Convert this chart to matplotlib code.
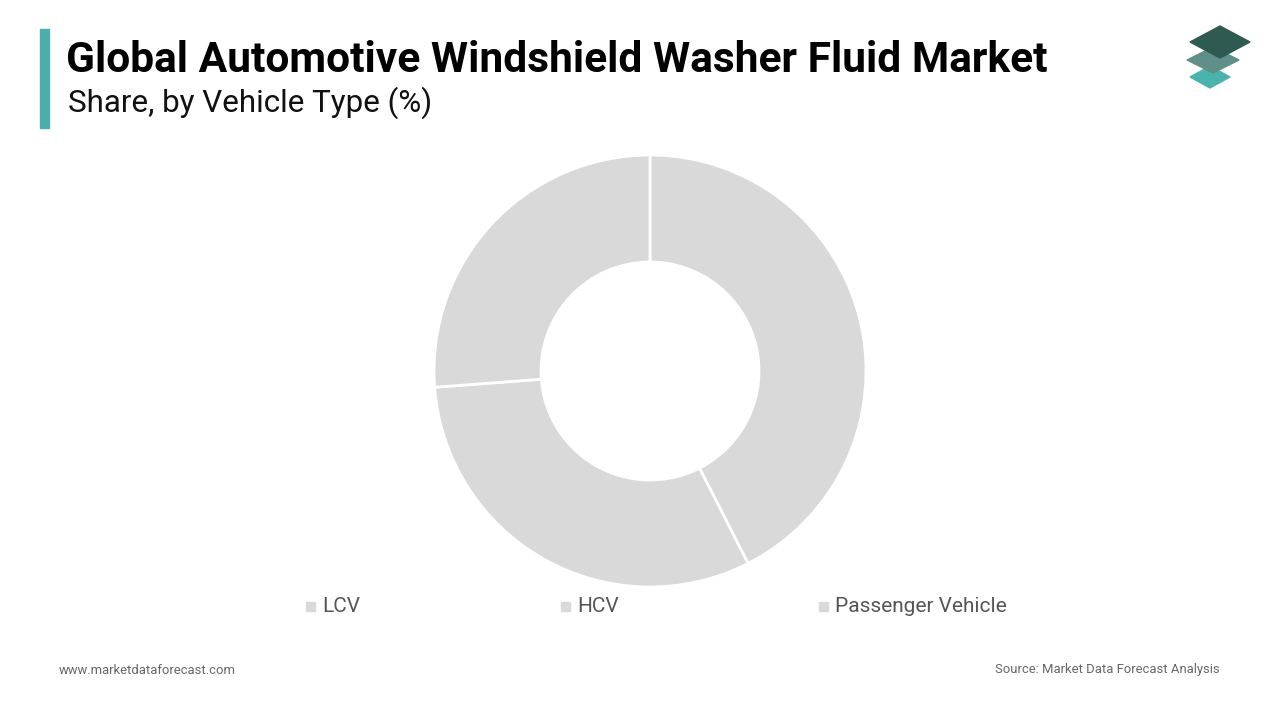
import matplotlib
matplotlib.use("Agg")
import matplotlib.pyplot as plt
from matplotlib.patches import Polygon, Rectangle

categories = ["Passenger Vehicle", "LCV", "HCV"]
values = [42.5, 31.3, 26.2]
legend_order = ["LCV", "HCV", "Passenger Vehicle"]

W, H = 1280, 720
fig = plt.figure(figsize=(12.8, 7.2), dpi=100)
fig.patch.set_facecolor("white")

def fx(x): return x / W
def fy(y): return 1 - y / H

# title bar
fig.patches.append(Rectangle((fx(40), fy(128)), 9 / W, 99 / H, transform=fig.transFigure, color="#4aaeaa"))
fig.text(fx(66), fy(60), "Global Automotive Windshield Washer Fluid Market", fontsize=30.6, fontweight="bold",
         family="Roboto", va="center", color="black")
fig.text(fx(68), fy(103), "Share, by Vehicle Type (%)", fontsize=22.6, family="Roboto", va="center", color="#111111")

# logo
def diamond(cx, cy, w, h, c):
    pts = [(fx(cx - w), fy(cy)), (fx(cx), fy(cy - h)), (fx(cx + w), fy(cy)), (fx(cx), fy(cy + h))]
    fig.patches.append(Polygon(pts, closed=True, transform=fig.transFigure, color=c))
diamond(1210, 77, 20, 11, "#4ab3ad")
diamond(1213, 60, 26, 13, "#5f8f86")
diamond(1220, 42, 30, 16, "#2e5a52")

# donut
ax = fig.add_axes([fx(650 - 216), fy(371 + 216), 432 / W, 432 / H])
ax.pie(values, startangle=90, counterclock=False, colors=["#d9d9d9"] * 3,
       wedgeprops=dict(width=107 / 216, edgecolor="white", linewidth=2))
ax.set_xlim(-1, 1)
ax.set_ylim(-1, 1)
ax.set_aspect("equal")
ax.axis("off")

# legend
lx = [306, 561, 819]
for x, lab in zip(lx, legend_order):
    fig.patches.append(Rectangle((fx(x), fy(611)), 9 / W, 9 / H, transform=fig.transFigure, color="#d9d9d9"))
    fig.text(fx(x + 16), fy(607), lab, fontsize=15, family="Roboto", va="center", color="#555555")

fig.text(fx(59), fy(670), "www.marketdataforecast.com", fontsize=9.4, family="Roboto", va="center", color="#666666")
fig.text(fx(1220), fy(670), "Source: Market Data Forecast Analysis", fontsize=9.4, family="Roboto", va="center",
         ha="right", color="#666666")

fig.savefig("out.png", dpi=100)
